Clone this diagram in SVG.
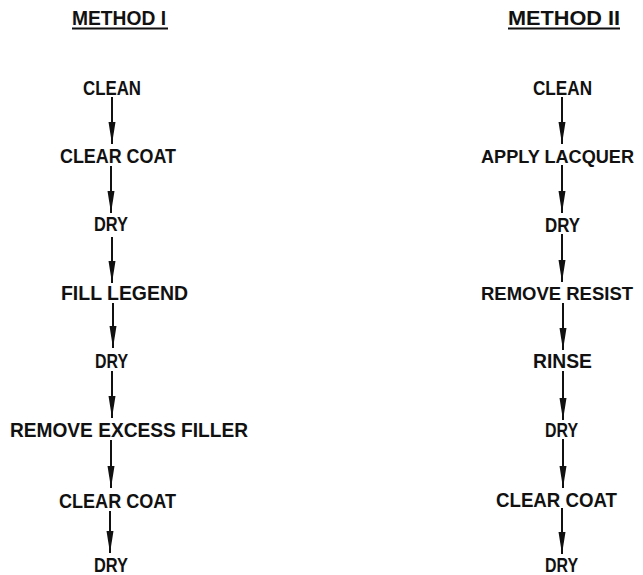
<svg xmlns="http://www.w3.org/2000/svg" width="643" height="575" viewBox="0 0 643 575">
<style>
text{font-family:"Liberation Sans",Arial,sans-serif;font-weight:bold;font-size:20px;fill:#111;}
text.w{font-size:18.5px;}
.ln{stroke:#111;stroke-width:2;fill:none;}
.ul{stroke:#111;stroke-width:2;}
</style>
<defs>
<marker id="ah" viewBox="0 -4 22 8" refX="22" refY="0" markerWidth="22" markerHeight="8" markerUnits="userSpaceOnUse" orient="auto">
<path d="M0,-3.5 L22,0 L0,3.5 Z" fill="#111"/>
</marker>
</defs>
<rect width="643" height="575" fill="#fff"/>
<g id="title1"><text x="72" y="25" textLength="94" lengthAdjust="spacingAndGlyphs">METHOD I</text><line class="ul" x1="72" y1="28.5" x2="168" y2="28.5"/></g>
<g id="title2"><text x="508" y="25" textLength="112" lengthAdjust="spacingAndGlyphs">METHOD II</text><line class="ul" x1="508" y1="28.5" x2="620" y2="28.5"/></g>
<g id="L1"><text x="83" y="95" textLength="58" lengthAdjust="spacingAndGlyphs">CLEAN</text></g>
<g id="L2"><text x="60" y="163" textLength="116" lengthAdjust="spacingAndGlyphs">CLEAR COAT</text></g>
<g id="L3"><text x="94" y="231" textLength="34" lengthAdjust="spacingAndGlyphs">DRY</text></g>
<g id="L4"><text x="61" y="300" textLength="127" lengthAdjust="spacingAndGlyphs">FILL LEGEND</text></g>
<g id="L5"><text x="95" y="368" textLength="33" lengthAdjust="spacingAndGlyphs">DRY</text></g>
<g id="L6"><text x="10" y="437" textLength="238" lengthAdjust="spacingAndGlyphs">REMOVE EXCESS FILLER</text></g>
<g id="L7"><text x="59" y="508" textLength="117" lengthAdjust="spacingAndGlyphs">CLEAR COAT</text></g>
<g id="L8"><text x="94" y="572" textLength="34" lengthAdjust="spacingAndGlyphs">DRY</text></g>
<g id="R1"><text x="533" y="95" textLength="59" lengthAdjust="spacingAndGlyphs">CLEAN</text></g>
<g id="R2"><text class="w" x="481" y="163" textLength="153" lengthAdjust="spacingAndGlyphs">APPLY LACQUER</text></g>
<g id="R3"><text x="545" y="232" textLength="35" lengthAdjust="spacingAndGlyphs">DRY</text></g>
<g id="R4"><text class="w" x="481" y="300" textLength="152" lengthAdjust="spacingAndGlyphs">REMOVE RESIST</text></g>
<g id="R5"><text x="533" y="368" textLength="59" lengthAdjust="spacingAndGlyphs">RINSE</text></g>
<g id="R6"><text x="545" y="437" textLength="33" lengthAdjust="spacingAndGlyphs">DRY</text></g>
<g id="R7"><text x="496" y="507" textLength="121" lengthAdjust="spacingAndGlyphs">CLEAR COAT</text></g>
<g id="R8"><text x="545" y="572" textLength="33" lengthAdjust="spacingAndGlyphs">DRY</text></g>
<g id="connectors" class="ln" marker-end="url(#ah)">
<line x1="112" y1="97" x2="112" y2="144"/>
<line x1="111" y1="166" x2="111" y2="213"/>
<line x1="112" y1="237" x2="112" y2="283"/>
<line x1="113" y1="303" x2="113" y2="348"/>
<line x1="112" y1="371" x2="112" y2="418"/>
<line x1="111" y1="440" x2="111" y2="488"/>
<line x1="110" y1="511" x2="110" y2="553"/>
<line x1="562" y1="97" x2="562" y2="144"/>
<line x1="562" y1="165" x2="562" y2="213"/>
<line x1="562" y1="234" x2="562" y2="282"/>
<line x1="563" y1="303" x2="563" y2="350"/>
<line x1="563" y1="371" x2="563" y2="420"/>
<line x1="563" y1="439" x2="563" y2="488"/>
<line x1="562" y1="508" x2="562" y2="554"/>
</g>
</svg>
